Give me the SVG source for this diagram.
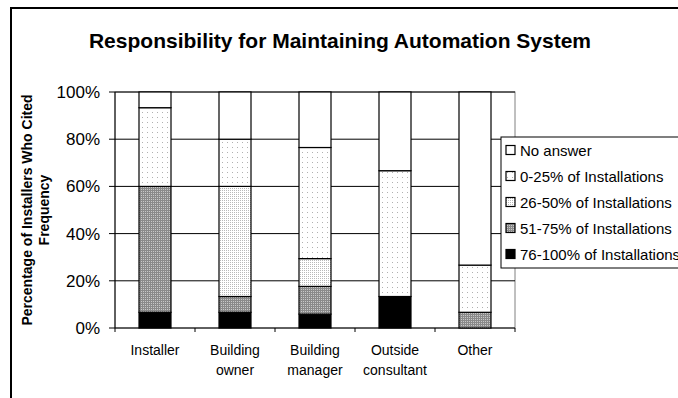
<svg xmlns="http://www.w3.org/2000/svg" width="678" height="398" viewBox="0 0 678 398">
<defs>
<pattern id="sparse" width="5" height="5" patternUnits="userSpaceOnUse"><rect width="5" height="5" fill="#fff"/><rect x="2" y="2" width="1" height="1" fill="#b0b0b0"/></pattern>
<pattern id="dense" width="2" height="2" patternUnits="userSpaceOnUse"><rect width="2" height="2" fill="#fff"/><rect x="0" y="0" width="1" height="1" fill="#b8b8b8"/></pattern>
<pattern id="gray" width="2" height="2" patternUnits="userSpaceOnUse"><rect width="2" height="2" fill="#8a8a8a"/><rect x="1" y="1" width="1" height="1" fill="#c8c8c8"/></pattern>
</defs>
<style>
text{font-family:"Liberation Sans",Arial,sans-serif;fill:#000}
.title{font-size:21px;font-weight:bold;text-anchor:middle}
.ytitle{font-size:14px;font-weight:bold;text-anchor:middle}
.tick{font-size:17px;text-anchor:end}
.xl{font-size:14px;text-anchor:middle}
.lg{font-size:15px}
.grid{stroke:#000;stroke-width:1;fill:none}
.seg{stroke:#000;stroke-width:1.2}
.w{fill:#fff}.s{fill:url(#sparse)}.d{fill:url(#dense)}.g{fill:url(#gray)}.b{fill:#000}
</style>
<rect width="678" height="398" fill="#fff"/>
<rect x="11" y="8" width="700" height="420" fill="none" stroke="#000" stroke-width="2"/>
<text class="title" x="340" y="47.5">Responsibility for Maintaining Automation System</text>
<g id="y-title">
<text class="ytitle" transform="translate(32,210) rotate(-90)">Percentage of Installers Who Cited</text>
<text class="ytitle" transform="translate(49,210) rotate(-90)">Frequency</text>
</g>
<g id="axes">
<rect x="115" y="92" width="400" height="236" fill="#fff" stroke="#808080" stroke-width="1"/>
<path class="grid" d="M109,92H515M109,139.2H515M109,186.4H515M109,233.6H515M109,280.8H515M109,328H515M115,92V332M195,328V332M275,328V332M355,328V332M435,328V332M515,328V332"/>
<text class="tick" x="100" y="98">100%</text>
<text class="tick" x="100" y="145.2">80%</text>
<text class="tick" x="100" y="192.4">60%</text>
<text class="tick" x="100" y="239.6">40%</text>
<text class="tick" x="100" y="286.8">20%</text>
<text class="tick" x="100" y="334">0%</text>
</g>
<g id="bar-installer">
<rect class="seg b" x="139" y="312.3" width="32" height="15.7"/>
<rect class="seg g" x="139" y="186.4" width="32" height="125.9"/>
<rect class="seg s" x="139" y="107.7" width="32" height="78.7"/>
<rect class="seg w" x="139" y="92" width="32" height="15.7"/>
</g>
<g id="bar-owner">
<rect class="seg b" x="219" y="312.3" width="32" height="15.7"/>
<rect class="seg g" x="219" y="296.5" width="32" height="15.8"/>
<rect class="seg d" x="219" y="186.4" width="32" height="110.1"/>
<rect class="seg s" x="219" y="139.2" width="32" height="47.2"/>
<rect class="seg w" x="219" y="92" width="32" height="47.2"/>
</g>
<g id="bar-manager">
<rect class="seg b" x="299" y="314.1" width="32" height="13.9"/>
<rect class="seg g" x="299" y="286.4" width="32" height="27.7"/>
<rect class="seg d" x="299" y="258.6" width="32" height="27.8"/>
<rect class="seg s" x="299" y="147.5" width="32" height="111.1"/>
<rect class="seg w" x="299" y="92" width="32" height="55.5"/>
</g>
<g id="bar-consultant">
<rect class="seg b" x="379" y="296.5" width="32" height="31.5"/>
<rect class="seg s" x="379" y="170.7" width="32" height="125.8"/>
<rect class="seg w" x="379" y="92" width="32" height="78.7"/>
</g>
<g id="bar-other">
<rect class="seg g" x="459" y="312.3" width="32" height="15.7"/>
<rect class="seg s" x="459" y="265.1" width="32" height="47.2"/>
<rect class="seg w" x="459" y="92" width="32" height="173.1"/>
</g>
<g id="x-labels">
<text class="xl" x="155" y="354.5">Installer</text>
<text class="xl" x="235" y="354.5">Building</text>
<text class="xl" x="235" y="375">owner</text>
<text class="xl" x="315" y="354.5">Building</text>
<text class="xl" x="315" y="375">manager</text>
<text class="xl" x="395" y="354.5">Outside</text>
<text class="xl" x="395" y="375">consultant</text>
<text class="xl" x="475" y="354.5">Other</text>
</g>
<g id="legend">
<rect x="501" y="137" width="200" height="131" fill="#fff" stroke="#000" stroke-width="1"/>
<rect class="seg w" x="506" y="145.5" width="9" height="9"/>
<text class="lg" x="520" y="155.5">No answer</text>
<rect class="seg s" x="506" y="171.5" width="9" height="9"/>
<text class="lg" x="520" y="181.5">0-25% of Installations</text>
<rect class="seg d" x="506" y="197.5" width="9" height="9"/>
<text class="lg" x="520" y="207.5">26-50% of Installations</text>
<rect class="seg g" x="506" y="223.5" width="9" height="9"/>
<text class="lg" x="520" y="233.5">51-75% of Installations</text>
<rect class="seg b" x="506" y="249.5" width="9" height="9"/>
<text class="lg" x="520" y="259.5">76-100% of Installations</text>
</g>
</svg>
